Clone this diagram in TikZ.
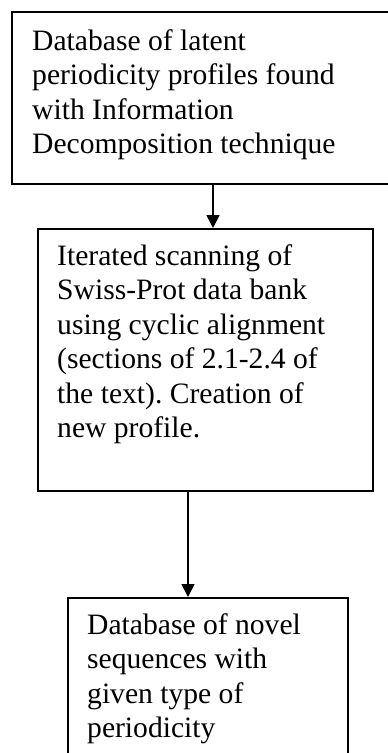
\documentclass[tikz,border=0pt]{standalone}
\usepackage{fontspec}
\setmainfont{Liberation Serif}
\frenchspacing
\usetikzlibrary{arrows.meta}
\tikzset{
  box/.style={draw=black, line width=2pt, rectangle, inner sep=0pt, anchor=north west},
  txt/.style={anchor=base west, inner sep=0pt, font=\fontsize{29.6}{34.5}\selectfont},
  arr/.style={line width=1.8pt, -{Triangle[width=13pt,length=13pt]}}
}
\begin{document}
\begin{tikzpicture}[x=1pt,y=-1pt]
\useasboundingbox (0,0) rectangle (388,753);
\clip (0,0) rectangle (388,753);
% boxes
\node[box, minimum width=389pt, minimum height=172pt] (b1) at (11,11) {};
\node[box, minimum width=335pt, minimum height=262pt] (b2) at (37,228) {};
\node[box, minimum width=280pt, minimum height=210pt] (b3) at (67,597) {};
% texts
\node[txt] (t11) at (32,50) {Database of latent};
\node[txt] (t12) at (32,84.5) {periodicity profiles found};
\node[txt] (t13) at (32,119) {with Information};
\node[txt] (t14) at (32,153.5) {Decomposition technique};
\node[txt] (t21) at (57,265) {Iterated scanning of};
\node[txt] (t22) at (57,299.5) {Swiss-Prot data bank};
\node[txt] (t23) at (57,334) {using cyclic alignment};
\node[txt] (t24) at (57,368.5) {(sections of 2.1-2.4 of};
\node[txt] (t25) at (57,403) {the text). Creation of};
\node[txt] (t26) at (57,437.5) {new profile.};
\node[txt] (t31) at (87,634) {Database of novel};
\node[txt] (t32) at (87,668.5) {sequences with};
\node[txt] (t33) at (87,703) {given type of};
\node[txt] (t34) at (87,737.5) {periodicity};
% connectors
\coordinate (x1) at (213,0);
\coordinate (x2) at (188,0);
\draw[arr] (b1.south -| x1) -- (b2.north -| x1);
\draw[arr] (b2.south -| x2) -- (b3.north -| x2);
\end{tikzpicture}
\end{document}
